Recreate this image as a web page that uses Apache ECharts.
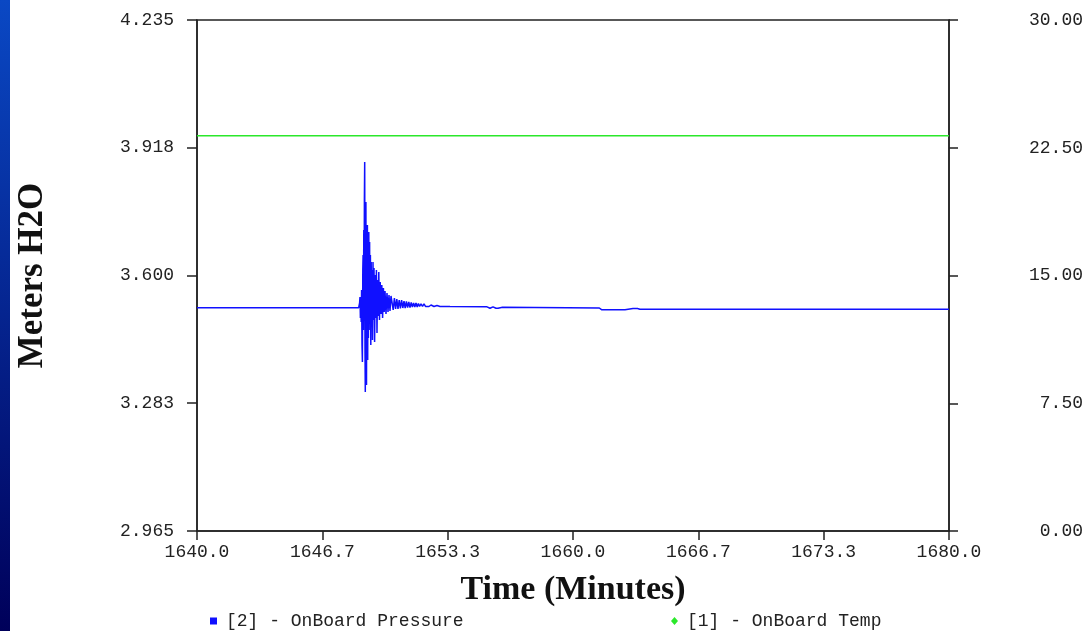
<!DOCTYPE html>
<html>
<head>
<meta charset="utf-8">
<script src="https://cdn.jsdelivr.net/npm/echarts@6/dist/echarts.min.js"></script>
<style>
html,body{margin:0;padding:0;background:#fff;}
#chart{width:1089px;height:631px;}
</style>
</head>
<body>
<div id="chart"></div>
<script>
// ---- tick labels ----
const timeTicks = [1640, 1646.667, 1653.333, 1660, 1666.667, 1673.333, 1680];
const pressureTicks = [2.965, 3.283, 3.600, 3.918, 4.235];
const tempTicks = [0, 7.5, 15, 22.5, 30];

// ---- series: [2] OnBoard Pressure (Meters H2O) ----
const pressureTime = [
  1640.000, 1648.600,
  1648.617, 1648.649, 1648.670, 1648.691, 1648.713, 1648.734, 1648.755, 1648.777,
  1648.798, 1648.819, 1648.835, 1648.851, 1648.872, 1648.888, 1648.904, 1648.920,
  1648.936, 1648.952, 1648.968, 1648.984, 1649.000, 1649.016, 1649.032, 1649.048,
  1649.064, 1649.080, 1649.096, 1649.117, 1649.138, 1649.160, 1649.181, 1649.202,
  1649.223, 1649.245, 1649.266, 1649.287, 1649.309, 1649.335, 1649.362, 1649.388,
  1649.415, 1649.447, 1649.479, 1649.511, 1649.543, 1649.574, 1649.606, 1649.638,
  1649.670, 1649.707, 1649.745, 1649.787, 1649.830, 1649.872, 1649.915, 1649.957,
  1650.000, 1650.053, 1650.106, 1650.160, 1650.213, 1650.266, 1650.319,
  1650.372, 1650.436, 1650.500, 1650.564, 1650.628, 1650.691, 1650.755, 1650.819,
  1650.883, 1650.947, 1651.011, 1651.074, 1651.138, 1651.202, 1651.266, 1651.330,
  1651.394, 1651.457, 1651.521, 1651.585, 1651.649, 1651.713, 1651.777, 1651.840,
  1651.915, 1651.995, 1652.074, 1652.154, 1652.234, 1652.340, 1652.447, 1652.606,
  1652.766, 1652.926, 1653.457,
  1655.280, 1655.319, 1655.372, 1655.426, 1655.479, 1655.532, 1655.585, 1655.638,
  1655.691, 1655.745, 1655.798, 1655.851, 1655.904, 1655.957, 1656.011, 1656.060,
  1656.250, 1656.280,
  1661.400, 1661.436, 1661.516, 1661.596, 1661.676, 1661.756, 1661.836, 1661.916,
  1661.996, 1662.076, 1662.156, 1662.236, 1662.316, 1662.360,
  1662.766, 1662.800, 1663.190, 1663.250, 1663.310, 1663.370, 1663.430, 1663.490,
  1663.560, 1680.000
];
const pressure = [
  3.5200, 3.5200,
  3.5192, 3.5317, 3.5466, 3.4944, 3.5391, 3.4844, 3.5640, 3.4273,
  3.3850, 3.6137, 3.6510, 3.4646, 3.7131, 3.5391, 3.7877, 3.8821,
  3.4149, 3.3105, 3.6634, 3.7827, 3.3602, 3.3279, 3.7007, 3.4646,
  3.7255, 3.3900, 3.6882, 3.4447, 3.7081, 3.4894, 3.6833, 3.4646,
  3.6510, 3.4273, 3.6336, 3.4770, 3.6137, 3.4397, 3.6336, 3.4894,
  3.6187, 3.4347, 3.6013, 3.4944, 3.6137, 3.4571, 3.5888, 3.4994,
  3.6087, 3.4894, 3.5839, 3.5043, 3.5764, 3.4944, 3.5689, 3.5093,
  3.5615, 3.5043, 3.5565, 3.5093, 3.5515, 3.5118, 3.5491,
  3.5491, 3.5143, 3.5441, 3.5168, 3.5416, 3.5168, 3.5391, 3.5180,
  3.5391, 3.5192, 3.5366, 3.5192, 3.5354, 3.5205, 3.5342, 3.5205,
  3.5329, 3.5217, 3.5317, 3.5217, 3.5317, 3.5217, 3.5304, 3.5230,
  3.5292, 3.5230, 3.5292, 3.5230, 3.5279, 3.5230, 3.5267, 3.5230,
  3.5255, 3.5230, 3.5228,
  3.5225, 3.5222, 3.5186, 3.5222, 3.5186, 3.5222, 3.5186, 3.5222,
  3.5186, 3.5222, 3.5186, 3.5222, 3.5186, 3.5222, 3.5186, 3.5192,
  3.5212, 3.5192,
  3.5192, 3.5178, 3.5150, 3.5178, 3.5150, 3.5178, 3.5150, 3.5178,
  3.5150, 3.5178, 3.5150, 3.5178, 3.5150, 3.5163,
  3.5150, 3.5163, 3.5178, 3.5150, 3.5178, 3.5150, 3.5178, 3.5150,
  3.5163, 3.5163
];

// ---- series: [1] OnBoard Temp ----
const tempTime = [1640, 1660, 1680];
const temp = [23.2, 23.2, 23.2];

const seriesNames = ['[2] - OnBoard Pressure', '[1] - OnBoard Temp'];
const blue = '#1010ff';
const green = '#2be82b';

const chart = echarts.init(document.getElementById('chart'), null, {renderer: 'canvas'});
const monoFont = {fontFamily: 'Liberation Mono', fontSize: 18, color: '#222'};
const axisLine = {show: true, lineStyle: {color: '#222', width: 1.5}};

chart.setOption({
  animation: false,
  backgroundColor: '#fff',
  graphic: [{
    type: 'rect', left: 0, top: 0, z: -1,
    shape: {width: 10, height: 631},
    style: {fill: new echarts.graphic.LinearGradient(0, 0, 0, 1, [
      {offset: 0, color: '#0a48c4'}, {offset: 1, color: '#00005a'}
    ])}
  }],
  grid: {left: 197, right: 140, top: 20, bottom: 100, show: true,
         borderColor: '#222', borderWidth: 1.5, backgroundColor: 'transparent'},
  legend: [
    {data: [{name: seriesNames[0], icon: 'rect'}], left: 205, top: 607,
     itemWidth: 7, itemHeight: 7, textStyle: Object.assign({padding: [0, 0, 0, 4]}, monoFont)},
    {data: [{name: seriesNames[1], icon: 'diamond'}], left: 666, top: 607,
     itemWidth: 7, itemHeight: 8, textStyle: Object.assign({padding: [0, 0, 0, 4]}, monoFont)}
  ],
  xAxis: {
    type: 'value', min: 1640, max: 1680,
    name: 'Time (Minutes)', nameLocation: 'middle', nameGap: 42,
    nameTextStyle: {fontFamily: 'Liberation Serif', fontWeight: 'bold', fontSize: 34, color: '#111'},
    axisLine: axisLine,
    axisTick: {show: true, length: 9, customValues: timeTicks, lineStyle: {color: '#222', width: 1.5}},
    axisLabel: Object.assign({customValues: timeTicks, margin: 12,
      formatter: v => v.toFixed(1)}, monoFont),
    splitLine: {show: false}
  },
  yAxis: [{
    type: 'value', min: 2.965, max: 4.235, position: 'left',
    name: 'Meters H2O', nameLocation: 'middle', nameRotate: 90, nameGap: 147,
    nameTextStyle: {fontFamily: 'Liberation Serif', fontWeight: 'bold', fontSize: 35, color: '#111'},
    axisLine: axisLine,
    axisTick: {show: true, length: 10, customValues: pressureTicks, lineStyle: {color: '#222', width: 1.5}},
    axisLabel: Object.assign({customValues: pressureTicks, margin: 23,
      formatter: v => v.toFixed(3)}, monoFont),
    splitLine: {show: false}
  }, {
    type: 'value', min: 0, max: 30, position: 'right',
    axisLine: axisLine,
    axisTick: {show: true, length: 9, customValues: tempTicks, lineStyle: {color: '#222', width: 1.5}},
    axisLabel: Object.assign({customValues: tempTicks, margin: 134, align: 'right',
      formatter: v => v.toFixed(2)}, monoFont),
    splitLine: {show: false}
  }],
  series: [{
    name: seriesNames[0], type: 'line', xAxisIndex: 0, yAxisIndex: 0,
    data: pressureTime.map((t, i) => [t, pressure[i]]),
    showSymbol: false, symbol: 'rect', color: blue,
    lineStyle: {color: blue, width: 1.5}
  }, {
    name: seriesNames[1], type: 'line', xAxisIndex: 0, yAxisIndex: 1,
    data: tempTime.map((t, i) => [t, temp[i]]),
    showSymbol: false, symbol: 'diamond', color: green,
    lineStyle: {color: green, width: 1.5}
  }]
});
</script>
</body>
</html>
